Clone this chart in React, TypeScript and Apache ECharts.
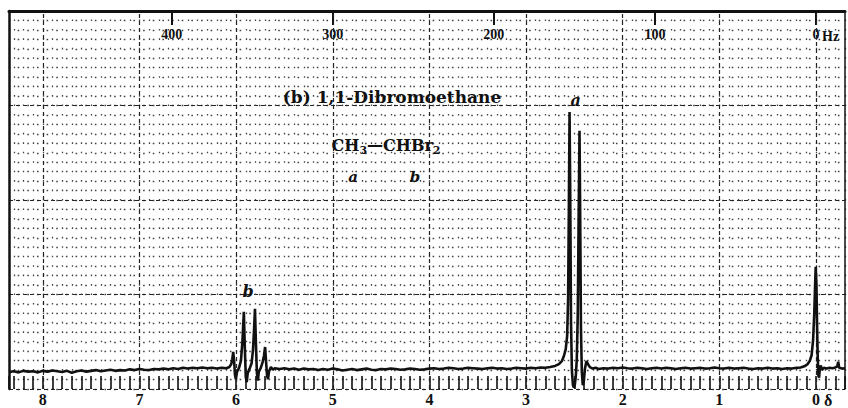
import React, { useEffect, useRef } from 'react';
import * as echarts from 'echarts';

// ---- data ----
const ppmLabels = [0, 1, 2, 3, 4, 5, 6, 7, 8];
const hzLabels = [0, 100, 200, 300, 400];

const leftBaseline: [number, number][] = [
  [8.35, 4.5], [8.30, 4.7], [8.25, 4.4], [8.20, 4.8], [8.15, 4.6], [8.10, 4.7], [8.05, 4.4], [8.00, 4.8],
  [7.95, 4.6], [7.90, 4.9], [7.85, 4.7], [7.80, 4.5], [7.75, 4.8], [7.70, 4.3], [7.65, 4.7], [7.60, 4.9],
  [7.55, 4.6], [7.50, 4.8], [7.45, 5.0], [7.40, 4.7], [7.35, 4.9], [7.30, 5.1], [7.25, 4.8], [7.20, 5.0],
  [7.15, 4.9], [7.10, 5.2], [7.05, 5.0], [7.00, 5.3], [6.95, 5.1], [6.90, 5.0], [6.85, 5.3], [6.80, 5.2],
  [6.75, 5.4], [6.70, 5.2], [6.65, 5.5], [6.60, 5.3], [6.55, 5.6], [6.50, 5.4], [6.45, 5.6], [6.40, 5.5],
  [6.35, 5.7], [6.30, 5.5], [6.25, 5.6], [6.20, 5.4], [6.15, 5.6], [6.10, 5.5],
];

const quartetB: [number, number][] = [
  [6.07, 5.8], [6.05, 6.6], [6.04, 7.8], [6.03, 9.8], [6.02, 7.2], [6.012, 3.8], [6.003, 2.6], [5.99, 4.6],
  [5.97, 5.6], [5.95, 7.5], [5.935, 12.5], [5.92, 20.4], [5.91, 11], [5.90, 3.2], [5.89, 1.8], [5.88, 4.2],
  [5.86, 5.4], [5.84, 6.8], [5.825, 10.5], [5.815, 15.5], [5.805, 21.2], [5.795, 12], [5.785, 4.2],
  [5.775, 2.2], [5.765, 4.6], [5.745, 5.6], [5.725, 7.2], [5.712, 8.8], [5.70, 11.1], [5.69, 7.2],
  [5.68, 3.6], [5.67, 2.6], [5.66, 4.6], [5.64, 5.8], [5.62, 5.1], [5.60, 5.5],
];

const midBaseline: [number, number][] = [
  [5.55, 5.3], [5.50, 5.5], [5.45, 5.2], [5.40, 5.4], [5.35, 5.1], [5.30, 5.4], [5.25, 5.2], [5.20, 5.3],
  [5.15, 5.0], [5.10, 5.3], [5.05, 5.1], [5.00, 5.4], [4.95, 5.2], [4.90, 4.9], [4.85, 5.1], [4.80, 5.3],
  [4.75, 5.0], [4.70, 5.2], [4.65, 5.4], [4.60, 5.1], [4.55, 5.0], [4.50, 5.3], [4.45, 5.2], [4.40, 5.4],
  [4.35, 5.3], [4.30, 5.1], [4.25, 5.2], [4.20, 5.4], [4.15, 5.3], [4.10, 5.1], [4.05, 5.2], [4.00, 5.4],
  [3.95, 5.5], [3.90, 5.3], [3.85, 5.4], [3.80, 5.6], [3.75, 5.5], [3.70, 5.3], [3.65, 5.4], [3.60, 5.6],
  [3.55, 5.5], [3.50, 5.4], [3.45, 5.3], [3.40, 5.5], [3.35, 5.6], [3.30, 5.4], [3.25, 5.5], [3.20, 5.3],
  [3.15, 5.4], [3.10, 5.6], [3.05, 5.5], [3.00, 5.4], [2.95, 5.6], [2.90, 5.5], [2.85, 5.7], [2.80, 5.6],
  [2.75, 5.8], [2.70, 6.1], [2.66, 6.6], [2.63, 7.4],
];

const doubletA: [number, number][] = [
  [2.61, 8.6], [2.59, 10.5], [2.575, 14], [2.565, 24], [2.557, 48], [2.55, 73.3], [2.543, 52], [2.535, 18],
  [2.526, 5], [2.515, 1], [2.505, 0.4], [2.495, 1.2], [2.485, 3.5], [2.475, 8], [2.465, 20], [2.456, 45],
  [2.447, 68.3], [2.44, 46], [2.432, 16], [2.423, 4.5], [2.413, 1], [2.403, 2], [2.39, 5.5], [2.375, 7.4],
  [2.36, 6.6], [2.34, 5.8], [2.31, 5.4],
];

const rightBaseline: [number, number][] = [
  [2.28, 5.6], [2.25, 5.3], [2.20, 5.5], [2.15, 5.4], [2.10, 5.6], [2.05, 5.5], [2.00, 5.7], [1.95, 5.5],
  [1.90, 5.4], [1.85, 5.6], [1.80, 5.5], [1.75, 5.3], [1.70, 5.5], [1.65, 5.6], [1.60, 5.4], [1.55, 5.6],
  [1.50, 5.5], [1.45, 5.3], [1.40, 5.5], [1.35, 5.6], [1.30, 5.4], [1.25, 5.5], [1.20, 5.6], [1.15, 5.4],
  [1.10, 5.5], [1.05, 5.7], [1.00, 5.5], [0.95, 5.4], [0.90, 5.6], [0.85, 5.4], [0.80, 5.5], [0.75, 5.6],
  [0.70, 5.4], [0.65, 5.3], [0.60, 5.5], [0.55, 5.4], [0.50, 5.6], [0.45, 5.4], [0.40, 5.5], [0.35, 5.3],
  [0.30, 5.5], [0.25, 5.4], [0.20, 5.6], [0.16, 5.7], [0.12, 6.0],
];

const tmsPeak: [number, number][] = [
  [0.09, 6.5], [0.065, 7.4], [0.045, 9], [0.03, 13], [0.018, 20], [0.01, 27], [0.003, 32.3], [-0.004, 28],
  [-0.011, 17], [-0.018, 8], [-0.025, 3.5], [-0.032, 3], [-0.04, 5.6], [-0.05, 6.2], [-0.06, 5],
  [-0.08, 5.6], [-0.11, 5.4], [-0.14, 5.6], [-0.17, 5.5], [-0.2, 5.7], [-0.22, 6.0], [-0.23, 7.2],
  [-0.24, 5.6], [-0.27, 5.4], [-0.3, 5.5],
];

const peakLabelNames = ['a', 'b'];
const peakLabelPpm = [2.487, 5.876];
const peakLabelHeight = [76.2, 25.9];

const serif = "'DejaVu Serif', 'Liberation Serif', serif";
const numFont = "'Liberation Serif', serif";
const ink = '#111';

export default function App() {
  const ref = useRef<HTMLDivElement>(null);
  useEffect(() => {
    document.body.style.margin = '0';
    const chart = echarts.init(ref.current!, null, { renderer: 'svg', width: 848, height: 408 });
    const spectrum = [...leftBaseline, ...quartetB, ...midBaseline, ...doubletA, ...rightBaseline, ...tmsPeak];
    const option: any = {
      animation: false,
      backgroundColor: '#fff',
      grid: { left: 9, right: 3, top: 11, bottom: 19, show: false },
      xAxis: [
        {
          type: 'value', position: 'bottom', inverse: true, min: -0.3, max: 8.35, interval: 0.1,
          axisLine: { show: false, onZero: false },
          axisTick: { show: true, inside: true, length: 13, lineStyle: { color: ink, width: 1.6 } },
          axisLabel: {
            margin: 2, fontSize: 16, fontWeight: 'bold', fontFamily: numFont, color: ink,
            formatter: (v: number) => {
              const r = Math.round(v);
              return Math.abs(v - r) < 1e-6 && ppmLabels.includes(r) ? String(r) : '';
            },
          },
          splitLine: { show: true, lineStyle: { color: '#444', width: 1.3, type: [1.6, 7.85], dashOffset: 0.8 } },
        },
        {
          type: 'value', position: 'top', inverse: true, min: -18, max: 501,
          axisLine: { show: true, onZero: false, lineStyle: { color: ink, width: 3 } },
          axisTick: { show: true, inside: true, length: 14, customValues: hzLabels, lineStyle: { color: ink, width: 2 } },
          axisLabel: {
            show: true, inside: true, customValues: hzLabels, margin: 16, fontSize: 14,
            fontWeight: 'bold', fontFamily: numFont, color: ink,
          },
          splitLine: { show: false },
        },
      ],
      yAxis: [
        {
          type: 'value', position: 'left', min: 0, max: 100, interval: 2.5,
          axisLine: { show: true, onZero: false, lineStyle: { color: ink, width: 2.5 } },
          axisTick: { show: false }, axisLabel: { show: false },
          splitLine: { show: true, lineStyle: { color: '#444', width: 1.3, type: [1.6, 8.05], dashOffset: 0.8 } },
        },
        {
          type: 'value', position: 'right', min: 0, max: 100, interval: 25,
          axisLine: { show: true, onZero: false, lineStyle: { color: ink, width: 1.5 } },
          axisTick: { show: false }, axisLabel: { show: false },
          splitLine: { show: true, lineStyle: { color: '#222', width: 1.2, type: [4, 3] } },
        },
      ],
      series: [
        {
          type: 'scatter', xAxisIndex: 0, yAxisIndex: 0, data: [], z: 1, silent: true,
          markLine: {
            symbol: 'none', silent: true, label: { show: false },
            lineStyle: { color: '#222', width: 1.2, type: [4, 3] },
            data: ppmLabels.map((v) => ({ xAxis: v })),
          },
        },
        {
          type: 'line', xAxisIndex: 0, yAxisIndex: 0, data: spectrum, symbol: 'none', z: 5,
          lineStyle: { color: ink, width: 2.6 },
        },
        {
          type: 'scatter', xAxisIndex: 0, yAxisIndex: 0, symbolSize: 0, z: 6, silent: true,
          itemStyle: { color: ink, opacity: 1 },
          data: peakLabelNames.map((n, i) => ({ name: n, value: [peakLabelPpm[i], peakLabelHeight[i]] })),
          label: {
            show: true, position: 'inside', formatter: '{b}', fontSize: 16, fontStyle: 'italic',
            fontWeight: 'bold', fontFamily: serif, color: ink, opacity: 1, textBorderWidth: 0,
          },
        },
      ],
      graphic: [
        {
          type: 'text', x: 392, y: 97, z: 10,
          style: { text: '(b) 1,1-Dibromoethane', fontSize: 17, fontWeight: 'bold', fontFamily: serif, fill: ink, align: 'center', verticalAlign: 'middle' },
        },
        {
          type: 'text', x: 386, y: 145, z: 10,
          style: {
            text: 'CH{s|3}—CHBr{s|2}', fontSize: 16, fontWeight: 'bold', fontFamily: serif, fill: ink, align: 'center', verticalAlign: 'middle',
            rich: { s: { fontSize: 11, fontWeight: 'bold', fontFamily: serif, fill: ink, padding: [10, 0, 0, 0] } },
          },
        },
        { type: 'text', x: 353, y: 177, z: 10, style: { text: 'a', fontSize: 15, fontStyle: 'italic', fontWeight: 'bold', fontFamily: serif, fill: ink, align: 'center', verticalAlign: 'middle' } },
        { type: 'text', x: 415, y: 177, z: 10, style: { text: 'b', fontSize: 15, fontStyle: 'italic', fontWeight: 'bold', fontFamily: serif, fill: ink, align: 'center', verticalAlign: 'middle' } },
        { type: 'text', x: 822, y: 36, z: 10, style: { text: 'Hz', fontSize: 14, fontWeight: 'bold', fontFamily: numFont, fill: ink, align: 'left', verticalAlign: 'middle' } },
        { type: 'text', x: 824, y: 400, z: 10, style: { text: 'δ', fontSize: 16, fontWeight: 'bold', fontFamily: numFont, fill: ink, align: 'left', verticalAlign: 'middle' } },
      ],
    };
    chart.setOption(option);
    return () => chart.dispose();
  }, []);
  return <div ref={ref} style={{ width: 848, height: 408, background: '#fff' }} />;
}
